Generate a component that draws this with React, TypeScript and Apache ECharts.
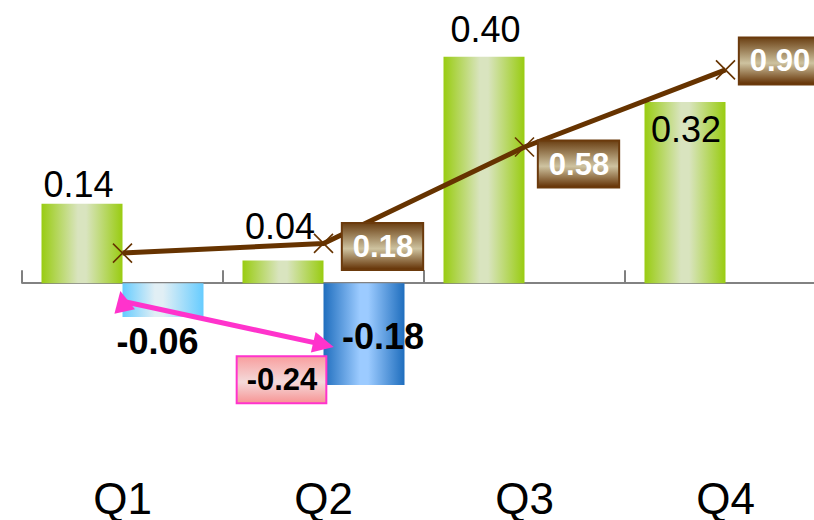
import React, { useEffect, useRef } from 'react';
import * as echarts from 'echarts';

// Quarterly results: gains and losses per quarter, plus their running totals.
const quarters = ['Q1', 'Q2', 'Q3', 'Q4'];
const gains = [0.14, 0.04, 0.4, 0.32];
const losses: (number | null)[] = [-0.06, -0.18, null, null];
const runningGains = [0.14, 0.18, 0.58, 0.9];
const runningLosses: (number | null)[] = [-0.06, -0.24, null, null];

const FONT = '"Liberation Sans", Arial, Helvetica, sans-serif';

const hGradient = (edge: string, mid: string, stops = [0.45, 0.55]) => ({
  type: 'linear',
  x: 0,
  y: 0,
  x2: 1,
  y2: 0,
  colorStops: [
    { offset: 0, color: edge },
    { offset: stops[0], color: mid },
    { offset: stops[1], color: mid },
    { offset: 1, color: edge },
  ],
});

const vGradient = (edge: string, mid: string, bottom: string) => ({
  type: 'linear',
  x: 0,
  y: 0,
  x2: 0,
  y2: 1,
  colorStops: [
    { offset: 0, color: edge },
    { offset: 0.55, color: mid },
    { offset: 1, color: bottom },
  ],
});

const greenFill = hGradient('#99cc11', '#d9e4bf');
const lossFills = [
  hGradient('#66ccff', '#e1eff5', [0.4, 0.5]),
  hGradient('#1f6ebe', '#9ccbff'),
];

// Per-quarter label placement for the gain bars
const gainLabelPos = ['top', 'top', 'top', 'insideTop'];
const gainLabelOffset = [
  [-3.5, 4],
  [-3, -11],
  [1.5, -4],
  [1, 5],
];
const lossLabelPos = ['bottom', 'inside'];
const lossLabelOffset = [
  [-5.5, 1],
  [19, 2],
];
// Offsets of the running-total boxes from their points
const runGainOffset = [
  [0, 0],
  [59, 3],
  [54, 17],
  [54, -9],
];
const runLossOffset = [
  [0, 0],
  [-42, 35],
];

const BAR_W = 81;
const X_MARK = 'path://M0,0L20,20M20,0L0,20';

export default function App() {
  const ref = useRef<HTMLDivElement>(null);

  useEffect(() => {
    if (!ref.current) return;
    const chart = echarts.init(ref.current, null, { renderer: 'svg' });

    const brownBox = {
      color: '#ffffff',
      fontWeight: 'bold',
      fontSize: 31,
      fontFamily: FONT,
      lineHeight: 31,
      padding: [7, 9, 7, 10],
      borderColor: '#6b3a0c',
      borderWidth: 2,
      backgroundColor: vGradient('#6e4418', '#cec3a0', '#673609'),
    };

    const pinkBox = {
      color: '#000000',
      fontWeight: 'bold',
      fontSize: 31,
      fontFamily: FONT,
      lineHeight: 31,
      padding: [7, 8, 7, 9],
      borderColor: '#ff33cc',
      borderWidth: 2,
      backgroundColor: vGradient('#f8a0a0', '#f4dada', '#f79797'),
    };

    chart.setOption({
      animation: false,
      backgroundColor: '#ffffff',
      grid: {
        left: 22,
        top: 0,
        width: 804,
        height: 470,
        containLabel: false,
        outerBoundsMode: 'none',
      },
      xAxis: [
        {
          // category labels along the foot of the plot
          type: 'category',
          data: quarters,
          position: 'bottom',
          axisLine: { show: false, onZero: false },
          axisTick: { show: false },
          axisLabel: {
            margin: 9,
            fontSize: 44,
            lineHeight: 38,
            color: '#000000',
            fontFamily: FONT,
          },
          splitLine: { show: false },
        },
        {
          // baseline through zero with upward ticks between quarters
          type: 'category',
          data: quarters,
          position: 'bottom',
          axisLine: {
            show: true,
            onZero: true,
            onZeroAxisIndex: 0,
            lineStyle: { color: '#595959', width: 1.5 },
          },
          axisTick: {
            show: true,
            inside: true,
            length: 13,
            lineStyle: { color: '#808080', width: 2 },
          },
          axisLabel: { show: false },
          splitLine: { show: false },
        },
      ],
      yAxis: [
        { type: 'value', min: -0.33, max: 0.5, show: false, splitLine: { show: false } },
        { type: 'value', min: -0.76, max: 1.19, show: false, splitLine: { show: false } },
      ],
      series: [
        {
          name: 'Gains',
          type: 'bar',
          yAxisIndex: 0,
          barWidth: BAR_W,
          barGap: '0%',
          data: gains.map((v, i) => ({
            value: v,
            itemStyle: { color: greenFill },
            label: {
              show: true,
              position: gainLabelPos[i],
              offset: gainLabelOffset[i],
              formatter: (p: any) => Number(p.value).toFixed(2),
              fontSize: 36,
              color: '#000000',
              fontFamily: FONT,
            },
          })),
        },
        {
          name: 'Losses',
          type: 'bar',
          yAxisIndex: 0,
          barWidth: BAR_W,
          barGap: '0%',
          data: losses.map((v, i) =>
            v === null
              ? '-'
              : {
                  value: v,
                  itemStyle: { color: lossFills[i] },
                  label: {
                    show: true,
                    position: lossLabelPos[i],
                    offset: lossLabelOffset[i],
                    formatter: (p: any) => Number(p.value).toFixed(2),
                    fontSize: 36,
                    fontWeight: 'bold',
                    color: '#000000',
                    fontFamily: FONT,
                  },
                }
          ),
        },
        {
          name: 'Running gains',
          type: 'line',
          yAxisIndex: 1,
          symbol: X_MARK,
          symbolSize: 19,
          lineStyle: { color: '#663300', width: 5 },
          itemStyle: { color: '#663300', borderColor: '#663300', borderWidth: 1.6 },
          z: 3,
          data: runningGains.map((v, i) => ({
            value: v,
            label: {
              show: i > 0,
              position: 'inside',
              offset: runGainOffset[i],
              formatter: (p: any) => Number(p.value).toFixed(2),
              ...brownBox,
            },
          })),
        },
        {
          name: 'Running losses',
          type: 'line',
          yAxisIndex: 1,
          symbol: 'triangle',
          symbolSize: 21,
          lineStyle: { color: '#ff33cc', width: 5 },
          itemStyle: { color: '#ff33cc' },
          z: 4,
          data: runningLosses.map((v, i) =>
            v === null
              ? '-'
              : {
                  value: v,
                  symbolRotate: i === 0 ? 12 : -103,
                  label: {
                    show: i > 0,
                    position: 'inside',
                    offset: runLossOffset[i],
                    formatter: (p: any) => Number(p.value).toFixed(2),
                    ...pinkBox,
                  },
                }
          ),
        },
      ],
    });

    return () => chart.dispose();
  }, []);

  return (
    <div
      style={{
        position: 'fixed',
        left: 0,
        top: 0,
        width: 814,
        height: 520,
        overflow: 'hidden',
        background: '#ffffff',
      }}
    >
      <div ref={ref} style={{ width: 840, height: 520 }} />
    </div>
  );
}
